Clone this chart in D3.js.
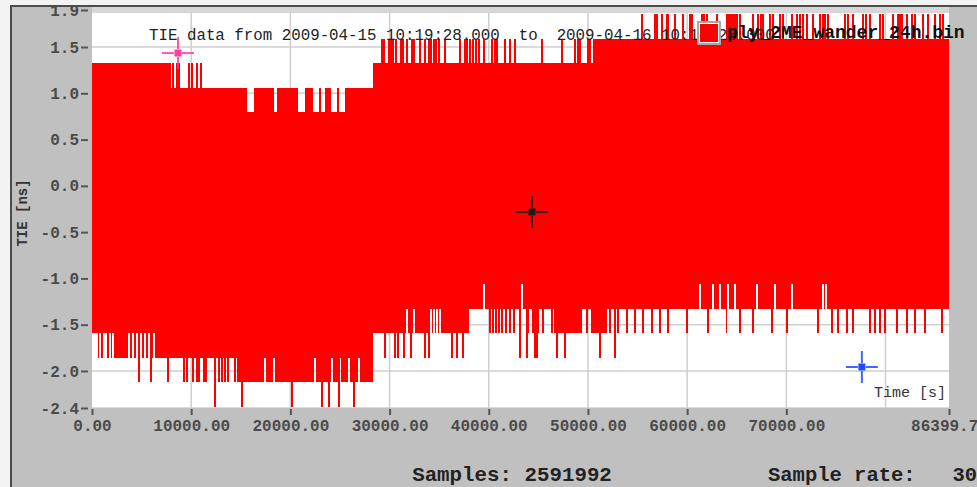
<!DOCTYPE html>
<html>
<head>
<meta charset="utf-8">
<script src="https://cdn.jsdelivr.net/npm/d3@7"></script>
<style>
  body { margin: 0; background: #f3f3f3; }
  svg { display: block; }
  text { white-space: pre; }
</style>
</head>
<body>
<svg id="chart" width="977" height="487"></svg>
<script>
// TIE wander record (24 h). time in s, TIE in ns
const timeSpan = [0, 86399.7];
const tieSpan = [-2.4, 1.9];
const xTickValues = [0, 10000, 20000, 30000, 40000, 50000, 60000, 70000, 86399.7];
const xGridValues = [10000, 20000, 30000, 40000, 50000, 60000, 70000, 80000];
const yTickValues = [1.9, 1.5, 1.0, 0.5, 0.0, -0.5, -1.0, -1.5, -2.0, -2.4];

// envelope of the samples: [from, to, value]
const maxSteps = [[0, 6850, 1.325], [6850, 28300, 1.06], [28300, 50500, 1.325], [50500, 86400, 1.59]];
const minSteps = [[0, 600, -1.59], [600, 14800, -1.855], [14800, 28300, -2.12], [28300, 38000, -1.59], [38000, 86400, -1.325]];

// single peaks (time) or runs ([from, to]) where the max differs from the envelope
const maxTo1325 = [6854, 7056, 7258, 7459, 7661, 7862, 8165, 8568, 8770, 9778, 10080, 10584, 10987];
const maxTo0795 = [[15725, 16330], [18446, 18648], [20866, 21470], [22378, 22882], [23184, 23486], [24192, 24696], [24998, 25502]];
const maxTo159 = [29232, 29434, 29938, 30139, 30341, 30643, 31147, 31349, 31752, 32256, 32458, 33062, 33566, 33970,
  34171, 34474, 34675, 34978, 35582, 37094, 37598, 37800, 38102, 38405, 38707, 39010, 39514, 40320, 40622, 40824,
  41630, 42134, 42638, 45360, 47376, 48686, 48989, 49190, 49997, 50198];
const maxTo1855 = [55440, 56750, 56952, 57456, 57960, 58061, 58766, 59573, 60278, 60480, 61488, 61690, 61992, 63000,
  64008, 64210, 64411, 64613, 64814, 65016, 65318, 66629, 67133, 67435, 67637, 68342, 68645, 69350, 69653, 70560,
  71064, 71366, 71669, 72072, 72677, 73382, 73685, 73886, 74189, 75902, 76205, 76709, 77717, 78019, 78422, 79430,
  79733, 80741, 81245, 81446, 81648, 82152, 82656, 82958, 83765, 84269, 84974, 85478, 85781];

// same for the min
const minTo159 = [806, 1109, 1411, 1814, 2117, 3730, 4133, 4536, 4939, 5342, 5746, 6250,
  40118, 40421, 40723, 41026, 41328, 41731, 42134, 42538, 43949, 44453, 44957, 45461, 46368, [46670, 49392], 49896,
  [50400, 51912], 52214, 53021, 53928, 54734, 55541, 56448, 57254, 58061, 59976, 62093, 64008, 65318, 66629, 68544,
  70056, 73181, 74592, 75197, 76104, 76709, 78422, 78926, 79430, 79934, 81144, 82152, 82958, 83966, 85680];
const minTo1855 = [17438, 18346, 22478, 24192, 24998, 25906, 26914,
  29534, 30542, 30845, 31450, 32155, 33566, 33970, 36288, 36792, 37397,
  43142, 43848, 44654, 44856, 46872, 47678, 51206, 52718];
const minTo212 = [4738, 5947, 7661, 9274, 9576, 10181, 10584, 10786, 11290, 11491, 12802, 13104, 13406, 13709, 14414, 14717];
const minTo2385 = [12398, 15120, 20160, 23184, 23890, 24898, 26410];
const minTo1325 = [31752, 32458, 34171, 34474, 34776, 35078];
const minTo106 = [39514, 43344, 61286, 62597, 63302, 64109, 64814, 67032, 68846, 70560, 73685, 73987];

const maxEdits = [[maxTo1325, 1.325], [maxTo0795, 0.795], [maxTo159, 1.59], [maxTo1855, 1.855]];
const minEdits = [[minTo159, -1.59], [minTo1855, -1.855], [minTo212, -2.12], [minTo2385, -2.385], [minTo1325, -1.325], [minTo106, -1.06]];

// cursors
const cursorTimes = [8669, 44352, 77616];
const cursorValues = [1.435, -0.282, -1.957];
const cursorColors = ['#ff3d9e', '#1c1c1c', '#1f4cff'];

const titleText = 'TIE data from 2009-04-15 10:19:28.000  to  2009-04-16 10:19:28.000';
const legendText = 'ply_2ME_wander_24h.bin';
const samplesText = 'Samples: 2591992';
const rateText = 'Sample rate:   30';

const W = 977, H = 487;
const plot = { left: 92, right: 949, top: 7, bottom: 408 };
const mono = '"Liberation Mono", "DejaVu Sans Mono", monospace';

const svg = d3.select('#chart');

const defs = svg.append('defs');
defs.append('clipPath').attr('id', 'panel-clip')
    .append('rect').attr('x', 10).attr('y', 7).attr('width', W - 10).attr('height', H - 7);
defs.append('clipPath').attr('id', 'plot-clip')
    .append('rect').attr('x', plot.left).attr('y', plot.top)
    .attr('width', plot.right - plot.left).attr('height', plot.bottom - plot.top);

const panel = svg.append('g').attr('clip-path', 'url(#panel-clip)');
panel.append('rect').attr('x', 10).attr('y', 5).attr('width', W - 10).attr('height', H - 5).attr('fill', '#c0c0c0');

const x = d3.scaleLinear().domain(timeSpan).range([plot.left, plot.right]);
const y = d3.scaleLinear().domain(tieSpan).range([plot.bottom, 10]);

// plot background + grid
const plotG = panel.append('g').attr('clip-path', 'url(#plot-clip)');
plotG.append('rect')
    .attr('x', plot.left).attr('y', plot.top)
    .attr('width', plot.right - plot.left).attr('height', plot.bottom - plot.top)
    .attr('fill', '#fff');

plotG.selectAll('.vgrid').data(xGridValues).enter().append('line')
    .attr('class', 'vgrid')
    .attr('x1', d => x(d)).attr('x2', d => x(d))
    .attr('y1', plot.top).attr('y2', plot.bottom)
    .attr('stroke', '#cfcfcf').attr('stroke-width', 1.5);

plotG.selectAll('.hgrid').data(yTickValues).enter().append('line')
    .attr('class', 'hgrid')
    .attr('x1', plot.left).attr('x2', plot.right)
    .attr('y1', d => y(d)).attr('y2', d => y(d))
    .attr('stroke', d => d === tieSpan[1] ? '#d6d6d6' : '#cfcfcf')
    .attr('stroke-width', d => d === tieSpan[1] ? 6 : 1.5);

// min/max per screen column
const binCount = Math.round(x.range()[1] - x.range()[0]);
const dt = (timeSpan[1] - timeSpan[0]) / binCount;

function stepValue(steps, t) {
    const s = steps.find(s => t >= s[0] && t < s[1]);
    return s ? s[2] : steps[steps.length - 1][2];
}

const bins = d3.range(binCount).map(i => {
    const mid = (i + 0.5) * dt;
    return { t: i * dt, lo: stepValue(minSteps, mid), hi: stepValue(maxSteps, mid) };
});

function applyEdits(list, value, key) {
    list.forEach(e => {
        const [t0, t1] = Array.isArray(e) ? e : [e, e + dt];
        const i0 = Math.max(0, Math.floor(t0 / dt));
        const i1 = Math.min(binCount - 1, Math.floor(t1 / dt));
        for (let i = i0; i <= i1; i++) bins[i][key] = value;
    });
}
maxEdits.forEach(([list, v]) => applyEdits(list, v, 'hi'));
minEdits.forEach(([list, v]) => applyEdits(list, v, 'lo'));

const last = bins[binCount - 1];
const areaPts = bins.concat([{ t: timeSpan[1], lo: last.lo, hi: last.hi }]);

const area = d3.area()
    .x(d => x(d.t))
    .y0(d => y(d.lo))
    .y1(d => y(d.hi))
    .curve(d3.curveStepAfter);

plotG.append('path')
    .datum(areaPts)
    .attr('d', area)
    .attr('fill', '#ff0000')
    .attr('shape-rendering', 'crispEdges');

// axes
const yAxis = d3.axisLeft(y).tickValues(yTickValues).tickFormat(d => d.toFixed(1)).tickSize(7).tickPadding(2);
const yG = panel.append('g').attr('transform', 'translate(88,0)').call(yAxis);
yG.select('.domain').remove();

const xAxis = d3.axisBottom(x).tickValues(xTickValues).tickFormat(d => d.toFixed(2)).tickSize(6).tickPadding(5);
const xG = panel.append('g').attr('transform', `translate(0,${plot.bottom + 1})`).call(xAxis);
xG.select('.domain').remove();

[yG, xG].forEach(g => {
    g.attr('font-family', mono).attr('font-size', 16).attr('font-weight', 'bold');
    g.selectAll('.tick line').attr('stroke', '#555').attr('stroke-width', 2);
    g.selectAll('.tick text').attr('fill', '#4a4a4a');
});

// titles
panel.append('text')
    .attr('x', 22).attr('y', 213)
    .attr('transform', 'rotate(-90,22,213)')
    .attr('text-anchor', 'middle').attr('dy', '0.35em')
    .attr('font-family', mono).attr('font-size', 14).attr('font-weight', 'bold')
    .attr('fill', '#333')
    .text('TIE [ns]');

panel.append('text')
    .attr('x', 946).attr('y', 392)
    .attr('text-anchor', 'end').attr('dy', '0.35em')
    .attr('font-family', mono).attr('font-size', 15)
    .attr('fill', '#333')
    .text('Time [s]');

panel.append('text')
    .attr('x', 149).attr('y', 34)
    .attr('dy', '0.35em')
    .attr('font-family', mono).attr('font-size', 15.8)
    .attr('fill', '#222')
    .text(titleText);

// legend swatch + file name
panel.append('rect')
    .attr('x', 698).attr('y', 22).attr('width', 22).attr('height', 22)
    .attr('fill', '#fff').attr('stroke', '#a8a8a8').attr('stroke-width', 2);
panel.append('rect')
    .attr('x', 700).attr('y', 24).attr('width', 18).attr('height', 18)
    .attr('fill', '#ff0000');
panel.append('text')
    .attr('x', 727).attr('y', 32)
    .attr('dy', '0.35em')
    .attr('font-family', mono).attr('font-size', 18).attr('font-weight', 'bold')
    .attr('fill', '#111')
    .text(legendText);

// cursors
cursorTimes.forEach((t, i) => {
    const cx = x(t), cy = y(cursorValues[i]);
    const g = panel.append('g').attr('stroke', cursorColors[i]).attr('stroke-width', 2).attr('opacity', 0.85);
    [[-16, 0, -4, 0], [4, 0, 16, 0], [0, -16, 0, -4], [0, 4, 0, 16]].forEach(a => {
        g.append('line')
            .attr('x1', cx + a[0]).attr('y1', cy + a[1])
            .attr('x2', cx + a[2]).attr('y2', cy + a[3]);
    });
    panel.append('rect')
        .attr('x', cx - 3.5).attr('y', cy - 3.5).attr('width', 7).attr('height', 7)
        .attr('fill', cursorColors[i]);
});

// footer
panel.append('text')
    .attr('x', 512).attr('y', 474)
    .attr('text-anchor', 'middle').attr('dy', '0.35em')
    .attr('font-family', mono).attr('font-size', 20.8).attr('font-weight', 'bold')
    .attr('fill', '#222')
    .text(samplesText);

panel.append('text')
    .attr('x', 768).attr('y', 474)
    .attr('dy', '0.35em')
    .attr('font-family', mono).attr('font-size', 20.5).attr('font-weight', 'bold')
    .attr('fill', '#222')
    .text(rateText);

// window border
svg.append('line').attr('x1', 10).attr('x2', W).attr('y1', 6).attr('y2', 6)
    .attr('stroke', '#4c4c4c').attr('stroke-width', 2);
svg.append('line').attr('x1', 11).attr('x2', 11).attr('y1', 5).attr('y2', H)
    .attr('stroke', '#4c4c4c').attr('stroke-width', 2);
</script>
</body>
</html>
